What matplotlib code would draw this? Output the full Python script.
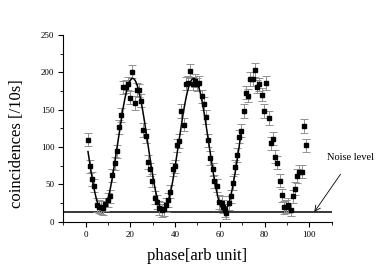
import numpy as np
import matplotlib
matplotlib.use("Agg")
import matplotlib.pyplot as plt
from matplotlib.ticker import MultipleLocator

# measured data (phase, coincidences)
phase = [0.9, 1.9, 2.9, 3.9, 4.9, 6.0, 7.0, 7.9, 8.8, 9.8, 10.7, 11.9, 13.0, 14.0,
         15.0, 15.9, 16.8, 17.9, 18.8, 19.8, 20.9, 21.9, 22.9, 23.8, 24.7, 25.8,
         26.8, 27.9, 28.8, 29.8, 30.9, 31.9, 32.9, 33.9, 34.8, 35.8, 36.8, 37.8,
         38.9, 39.8, 40.7, 41.7, 42.8, 43.8, 44.8, 45.8, 46.8, 47.9, 48.8, 49.8,
         50.8, 51.9, 52.8, 53.8, 54.9, 55.8, 56.8, 57.6, 58.6, 59.8, 60.8, 61.6,
         62.2, 62.8, 64.0, 64.9, 65.8, 66.7, 67.7, 68.7, 69.6, 70.6, 71.7, 72.8,
         73.7, 74.7, 75.6, 76.8, 77.7, 78.7, 79.8, 80.8, 81.8, 82.8, 83.7, 84.7,
         85.7, 86.7, 87.7, 88.7, 89.6, 90.6, 91.7, 92.6, 93.7, 94.7, 95.6, 96.7,
         97.7, 98.7]
counts = [110, 74, 57, 48, 22, 20, 19, 18, 23, 29, 34, 62, 78, 94,
          127, 143, 180, 181, 185, 166, 201, 159, 177, 176, 162, 123,
          115, 80, 70, 55, 32, 26, 18, 15, 17, 22, 29, 40,
          70, 74, 102, 108, 148, 130, 185, 186, 202, 185, 189, 184,
          186, 168, 158, 140, 109, 85, 70, 54, 48, 26, 25, 20,
          15, 12, 25, 34, 52, 73, 89, 114, 122, 148, 173, 169,
          191, 191, 203, 181, 184, 170, 148, 186, 139, 105, 111, 87,
          79, 55, 35, 19, 20, 22, 16, 34, 44, 61, 67, 67,
          128, 102]
count_err = 9

# sinusoidal fit parameters
fit_offset = 103.5
fit_amp = 88.5
fit_period = 27.3
fit_peak = 21.0
fit_start, fit_end = 1.0, 69.6

noise_level = 12.5

plt.rcParams['font.family'] = ['Liberation Serif', 'DejaVu Serif']

fig = plt.figure(figsize=(3.82, 2.66), dpi=100)
ax = fig.add_axes([0.166, 0.167, 0.702, 0.701])

ax.errorbar(phase, counts, yerr=count_err, fmt='s', color='black', ms=3.5,
            ecolor='#909090', elinewidth=0.7, capsize=2.8, capthick=0.7, zorder=3)

xf = np.linspace(fit_start, fit_end, 400)
yf = fit_offset + fit_amp * np.cos(2 * np.pi * (xf - fit_peak) / fit_period)
ax.plot(xf, yf, color='black', lw=1.1, zorder=4)

ax.axhline(noise_level, color='black', lw=1.1, zorder=2)

ax.set_xlim(-10, 110)
ax.set_ylim(0, 250)
ax.xaxis.set_major_locator(MultipleLocator(20))
ax.xaxis.set_minor_locator(MultipleLocator(10))
ax.yaxis.set_major_locator(MultipleLocator(50))
ax.yaxis.set_minor_locator(MultipleLocator(25))
ax.set_xticks([0, 20, 40, 60, 80, 100])
ax.spines['top'].set_visible(False)
ax.spines['right'].set_visible(False)
ax.tick_params(which='major', direction='out', length=3.5, width=0.8, labelsize=6.5, pad=3)
ax.tick_params(which='minor', direction='out', length=2, width=0.6)

ax.set_xlabel('phase[arb unit]', fontsize=12, labelpad=7)
ax.set_ylabel('coincidences [/10s]', fontsize=12)
ax.yaxis.set_label_coords(-0.145, 0.42)

ax.text(108, 86, 'Noise level', fontsize=7.5, ha='left', va='center', clip_on=False)
ax.annotate('', xy=(102.3, 13), xytext=(114, 63.5), annotation_clip=False,
            arrowprops=dict(arrowstyle='->', color='black', lw=0.6,
                            shrinkA=0, shrinkB=0))

fig.savefig('out.png', dpi=100)
